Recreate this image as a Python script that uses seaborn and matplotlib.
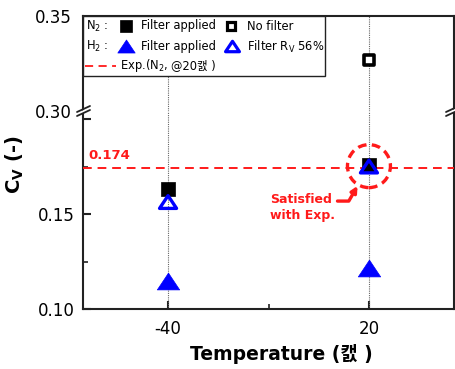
import matplotlib
matplotlib.use("Agg")
import matplotlib.pyplot as plt
import matplotlib.transforms as mtransforms
from matplotlib.lines import Line2D
from matplotlib.patches import Rectangle, Ellipse, Polygon
from matplotlib.path import Path
import seaborn as sns
import pandas as pd

# ---- data -------------------------------------------------------------
temperatures = [-40, 20]
n2_filter = [0.163, 0.176]          # N2, filter applied
n2_nofilter_temp = [20]
n2_nofilter = [0.327]               # N2, no filter
h2_filter = [0.1145, 0.1214]        # H2, filter applied
h2_rv56 = [0.1563, 0.175]           # H2, filter Rv 56%
exp_value = 0.174                   # experiment (N2 @ 20 C)

x_ticks = [-40, 20]
y_low_ticks = [0.10, 0.15, 0.20]
y_low_labels = ["0.10", "0.15", ""]
y_high_ticks = [0.30, 0.35]
y_high_labels = ["0.30", "0.35"]

# ---- style ------------------------------------------------------------
sns.set_theme(style="ticks")
plt.rcParams["font.family"] = ["DejaVu Sans", "Noto Sans CJK KR"]
plt.rcParams["mathtext.fontset"] = "dejavusans"
plt.rcParams["axes.unicode_minus"] = False
plt.rcParams["xtick.direction"] = "in"
plt.rcParams["ytick.direction"] = "in"
plt.rcParams["text.color"] = "black"
plt.rcParams["axes.labelcolor"] = "black"
plt.rcParams["xtick.color"] = "#222222"
plt.rcParams["ytick.color"] = "#222222"
plt.rcParams["xtick.labelcolor"] = "black"
plt.rcParams["ytick.labelcolor"] = "black"

W, H = 456, 369
fig = plt.figure(figsize=(W / 100, H / 100), dpi=100)
fig.patch.set_facecolor("white")

# pixel helper (origin top-left)
px = mtransforms.Affine2D().scale(1 / W, -1 / H).translate(0, 1) + fig.transFigure

left, right = 83, 454
top, brk, bottom = 16, 111, 309
ax_top = fig.add_axes([left / W, (H - brk) / H, (right - left) / W, (brk - top) / H])
ax_bot = fig.add_axes([left / W, (H - bottom) / H, (right - left) / W, (bottom - brk) / H])

ax_bot.set_ylim(0.10, 0.10 + (bottom - brk) / 1900)
ax_top.set_ylim(0.30, 0.30 + (brk - top) / 1900)
for ax in (ax_top, ax_bot):
    ax.set_xlim(-65.4, 45.4)
    ax.set_facecolor("white")
    for s in ax.spines.values():
        s.set_linewidth(1.5)
        s.set_color("#222222")
    for t in x_ticks:
        ax.axvline(t, color="#666666", ls=(0, (1, 1)), lw=0.8, zorder=1)

ax_top.spines["bottom"].set_visible(False)
ax_bot.spines["top"].set_visible(False)

ax_bot.set_xticks(x_ticks)
ax_bot.set_xticks([-10], minor=True)
ax_bot.set_yticks(y_low_ticks)
ax_bot.set_yticklabels(y_low_labels)
ax_bot.set_yticks([0.125, 0.175], minor=True)
ax_bot.tick_params(axis="both", which="major", direction="in", length=6, width=1.5,
                   labelsize=12, pad=6, left=True, bottom=True)
ax_bot.tick_params(axis="both", which="minor", direction="in", length=3.5, width=1.2,
                   left=True, bottom=True)
ax_bot.tick_params(axis="x", which="major", pad=8)

ax_top.set_xticks([])
ax_top.set_yticks(y_high_ticks)
ax_top.set_yticklabels(y_high_labels)
ax_top.tick_params(axis="y", which="major", direction="in", length=0, pad=8, labelsize=12)

# ---- marks ------------------------------------------------------------
tri_path = Path([(-1, -0.75), (1, -0.75), (0, 0.75), (-1, -0.75)], closed=True)

df_n2 = pd.DataFrame({"T": temperatures, "Cv": n2_filter})
df_h2 = pd.DataFrame({"T": temperatures, "Cv": h2_filter})
df_rv = pd.DataFrame({"T": temperatures, "Cv": h2_rv56})
df_nf = pd.DataFrame({"T": n2_nofilter_temp, "Cv": n2_nofilter})

sns.scatterplot(data=df_n2, x="T", y="Cv", ax=ax_bot, marker="s", s=90,
                color="black", edgecolor="black", linewidth=0.5, zorder=4)
sns.scatterplot(data=df_h2, x="T", y="Cv", ax=ax_bot, marker=tri_path, s=260,
                color="blue", edgecolor="blue", linewidth=0.5, zorder=4)
sns.scatterplot(data=df_rv, x="T", y="Cv", ax=ax_bot, marker=tri_path, s=150,
                facecolor="none", edgecolor="blue", linewidth=2.4, zorder=5)
sns.scatterplot(data=df_nf, x="T", y="Cv", ax=ax_top, marker="s", s=48,
                facecolor="white", edgecolor="black", linewidth=2.6, zorder=4)
ax_top.set_xlabel("")
ax_top.set_ylabel("")

ax_bot.axhline(exp_value, color="#ff1a1a", lw=1.4, ls=(0, (4.5, 3)), zorder=3)
ax_bot.text(-63.9, 0.181, f"{exp_value:.3f}", color="#ff1a1a", fontsize=9.5,
            fontweight="bold", ha="left", va="center")

# dashed circle around the 20 C result
ax_bot.add_patch(Ellipse((20, 0.1752), width=43 / 3.35, height=43 / 1900,
                         fill=False, edgecolor="#ff1a1a", lw=2.4,
                         ls=(0, (2.6, 1.6)), zorder=6))
ax_bot.text(-9.6, 0.1533, "Satisfied\nwith Exp.", color="#ff1a1a", fontsize=9,
            fontweight="bold", ha="left", va="center", linespacing=1.35)
ax_bot.annotate("", xy=(16.6, 0.1648), xytext=(10.6, 0.1568),
                arrowprops=dict(arrowstyle="-|>", color="#ff1a1a", lw=2.4,
                                connectionstyle="angle,angleA=0,angleB=60,rad=0",
                                shrinkA=0, shrinkB=0, mutation_scale=9))

# ---- axis labels ------------------------------------------------------
ax_bot.set_xlabel("Temperature (캜 )", fontsize=13.5, fontweight="bold")
ax_bot.xaxis.set_label_coords((281 - left) / (right - left), -(344 - bottom) / (bottom - brk))
ax_bot.set_ylabel(r"C$_\mathbf{V}$ (-)", fontsize=14, fontweight="bold")
ax_bot.yaxis.set_label_coords((26 - left) / (right - left), (bottom - 165) / (bottom - brk))

# ---- axis break marks --------------------------------------------------
for xb in (left, right):
    x0 = xb - 6 if xb == left else xb - 8
    fig.add_artist(Polygon([(x0, brk + 2), (x0 + 13, brk - 4), (x0 + 13, brk - 1), (x0, brk + 5)],
                           closed=True, transform=px, facecolor="white", edgecolor="none", zorder=5))
    for dy in (0, 4):
        fig.add_artist(Line2D([x0, x0 + 13], [brk + 1 + dy, brk - 5 + dy], transform=px,
                              color="#222222", lw=1.3, zorder=6))

# ---- legend box --------------------------------------------------------
fig.add_artist(Rectangle((left, top), 242, 60, transform=px, facecolor="white",
                         edgecolor="#222222", lw=1.0, zorder=7))
fs = 8.3
rows = [26, 46.5, 65.5]
fig.text(86 / W, 1 - rows[0] / H, r"N$_2$ :", fontsize=fs, va="center", ha="left", zorder=8)
fig.text(86 / W, 1 - rows[1] / H, r"H$_2$ :", fontsize=fs, va="center", ha="left", zorder=8)
fig.add_artist(Line2D([126], [rows[0]], transform=px, marker="s", ms=8.5, color="black",
                      mec="black", mew=0.5, ls="none", zorder=8))
fig.add_artist(Line2D([231.5], [rows[0]], transform=px, marker="s", ms=5.3, mfc="white",
                      mec="black", mew=2.3, ls="none", zorder=8))
fig.add_artist(Line2D([126.5], [rows[1] - 0.5], transform=px, marker=tri_path, ms=12.5,
                      color="blue", mec="blue", mew=0.5, ls="none", zorder=8))
fig.add_artist(Line2D([232.5], [rows[1] - 0.5], transform=px, marker=tri_path, ms=10,
                      mfc="white", mec="blue", mew=2.3, ls="none", zorder=8))
for xt, yt, s in [(141, rows[0], "Filter applied"), (247, rows[0], "No filter"),
                  (141, rows[1], "Filter applied"), (247, rows[1], r"Filter R$_\mathrm{V}$ 56%")]:
    fig.text(xt / W, 1 - yt / H, s, fontsize=fs, va="center", ha="left", zorder=8)
fig.add_artist(Line2D([85, 116], [rows[2], rows[2]], transform=px, color="#ff1a1a",
                      lw=1.3, ls=(0, (4.5, 3)), zorder=8))
t1 = fig.text(120 / W, 1 - rows[2] / H, r"Exp.(N$_2$,", fontsize=fs, va="center",
              ha="left", zorder=8)
renderer = fig.canvas.get_renderer()
bb = t1.get_window_extent(renderer)
fig.text((bb.x1 + 3) / W, 1 - rows[2] / H, "@20캜 )", fontsize=fs, va="center",
         ha="left", zorder=8)

fig.savefig("out.png", dpi=100)
